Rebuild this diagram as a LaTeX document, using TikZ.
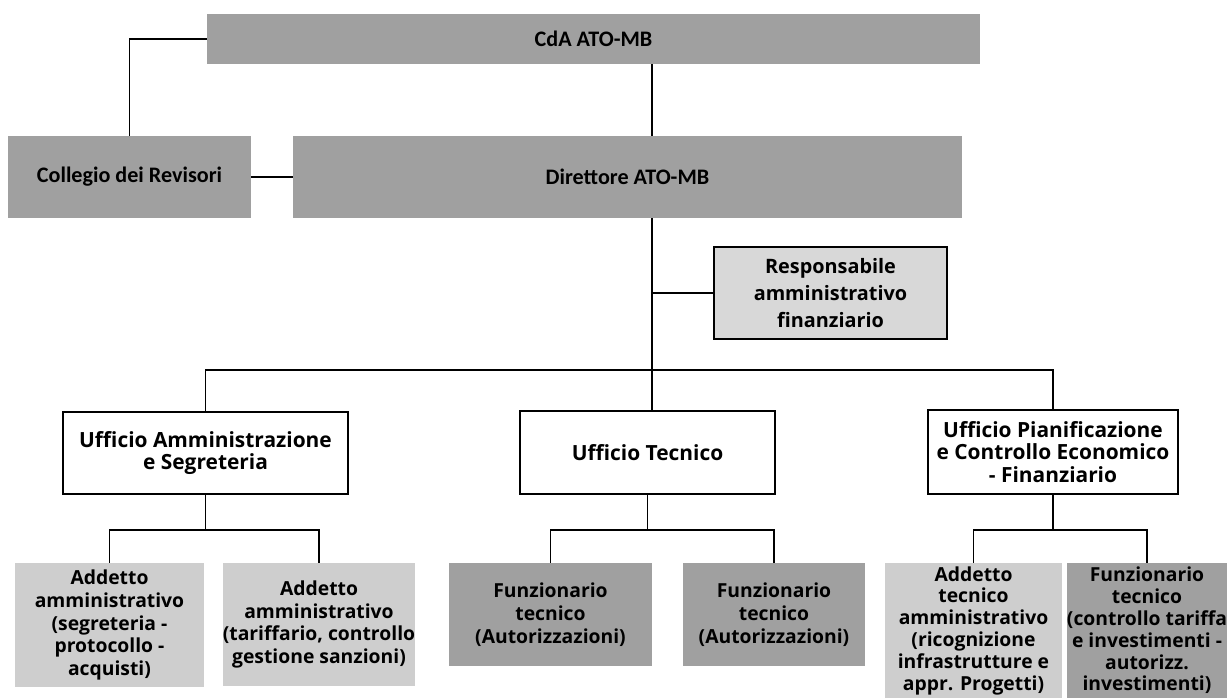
\documentclass[tikz,border=0pt]{standalone}
\usepackage{fontspec}
\setmainfont{Open Sans}
\newfontfamily\headfont{Carlito}
\usetikzlibrary{positioning}
\definecolor{BoxDark}{RGB}{160,160,160}
\definecolor{BoxLight}{RGB}{206,206,206}
\definecolor{BoxResp}{RGB}{216,216,216}
\tikzset{
  boxsize/.style 2 args={
    minimum width=#1*0.02cm,
    minimum height=#2*0.02cm
  },
  base box/.style={
    rectangle,
    inner sep=0pt,
    align=center
  },
  head box/.style={
    base box,
    fill=BoxDark,
    font=\headfont\bfseries\fontsize{12.6pt}{15pt}\selectfont
  },
  resp box/.style={
    base box,
    draw,
    line width=0.9pt,
    fill=BoxResp,
    font=\bfseries\fontsize{11.3pt}{15.3pt}\selectfont
  },
  office box/.style={
    base box,
    draw,
    line width=0.9pt,
    fill=white,
    font=\bfseries\fontsize{11.9pt}{13pt}\selectfont
  },
  staff box/.style={
    base box,
    fill=BoxLight,
    font=\bfseries\fontsize{11pt}{13pt}\selectfont
  },
  tech box/.style={
    staff box,
    fill=BoxDark
  },
  tall box/.style={
    font=\bfseries\fontsize{11pt}{12.4pt}\selectfont
  },
  link/.style={
    draw,
    line width=0.8pt
  },
}

\begin{document}
\begin{tikzpicture}[x=0.02cm, y=-0.02cm]
  \path[use as bounding box, fill=white] (0,0) rectangle (1229,698);

  % vertici
  \node[head box, boxsize={773}{50}] (cda) at (593.5,39) {CdA ATO-MB};
  \node[head box, boxsize={243}{82}] (coll) at (129.5,177) {Collegio dei Revisori};
  \node[head box, boxsize={669}{82}] (dir) at (627.5,177) {Direttore ATO-MB};
  \node[resp box, boxsize={233}{92}] (resp) at (830.5,293)
    {Responsabile\\amministrativo\\finanziario};
  \coordinate (bus) at (652,370);

  % uffici
  \node[office box, boxsize={285}{82}] (uamm) at (205.5,453)
    {Ufficio Amministrazione\\e Segreteria};
  \node[office box, boxsize={255}{83}] (utec) at (647.5,452.5) {Ufficio Tecnico};
  \node[office box, boxsize={250}{84}] (upian) at (1053,452)
    {Ufficio Pianificazione\\e Controllo Economico\\- Finanziario};

  % addetti e funzionari
  \node[staff box, boxsize={189}{124}] (amm1) at (109.5,625)
    {Addetto\\amministrativo\\(segreteria -\\protocollo -\\acquisti)};
  \node[staff box, boxsize={182}{123}] (amm2) at (319,624.5)
    {Addetto\\amministrativo\\(tariffario, controllo\\gestione sanzioni)};
  \node[tech box, boxsize={203}{103}] (tec1) at (550.5,614.5)
    {Funzionario\\tecnico\\(Autorizzazioni)};
  \node[tech box, boxsize={182}{103}] (tec2) at (774,614.5)
    {Funzionario\\tecnico\\(Autorizzazioni)};
  \node[staff box, tall box, boxsize={177}{135}] (pian1) at (973.5,630.5)
    {Addetto\\tecnico\\amministrativo\\(ricognizione\\infrastrutture e\\appr. Progetti)};
  \node[tech box, tall box, boxsize={156}{135}] (pian2) at (1147,630.5)
    {Funzionario\\tecnico\\(controllo tariffa\\e investimenti -\\autorizz.\\investimenti)};

  % collegamenti
  \draw[link] (cda.west) -| (coll.north);
  \draw[link] (coll) -- (dir);
  \draw[link] (cda.south -| bus) -- (dir.north -| bus);
  \draw[link] (dir.south -| bus) -- (utec.north -| bus);
  \draw[link] (resp.west) -- (resp.west -| bus);
  \draw[link] (uamm.north) |- (bus) -| (upian.north);

  \draw[link] (uamm.south) -- ++(0,35) coordinate (jamm);
  \draw[link] (amm1.north) |- (jamm) -| (amm2.north);
  \draw[link] (utec.south) -- ++(0,35) coordinate (jtec);
  \draw[link] (tec1.north) |- (jtec) -| (tec2.north);
  \draw[link] (upian.south) -- ++(0,35) coordinate (jpian);
  \draw[link] (pian1.north) |- (jpian) -| (pian2.north);
\end{tikzpicture}
\end{document}
